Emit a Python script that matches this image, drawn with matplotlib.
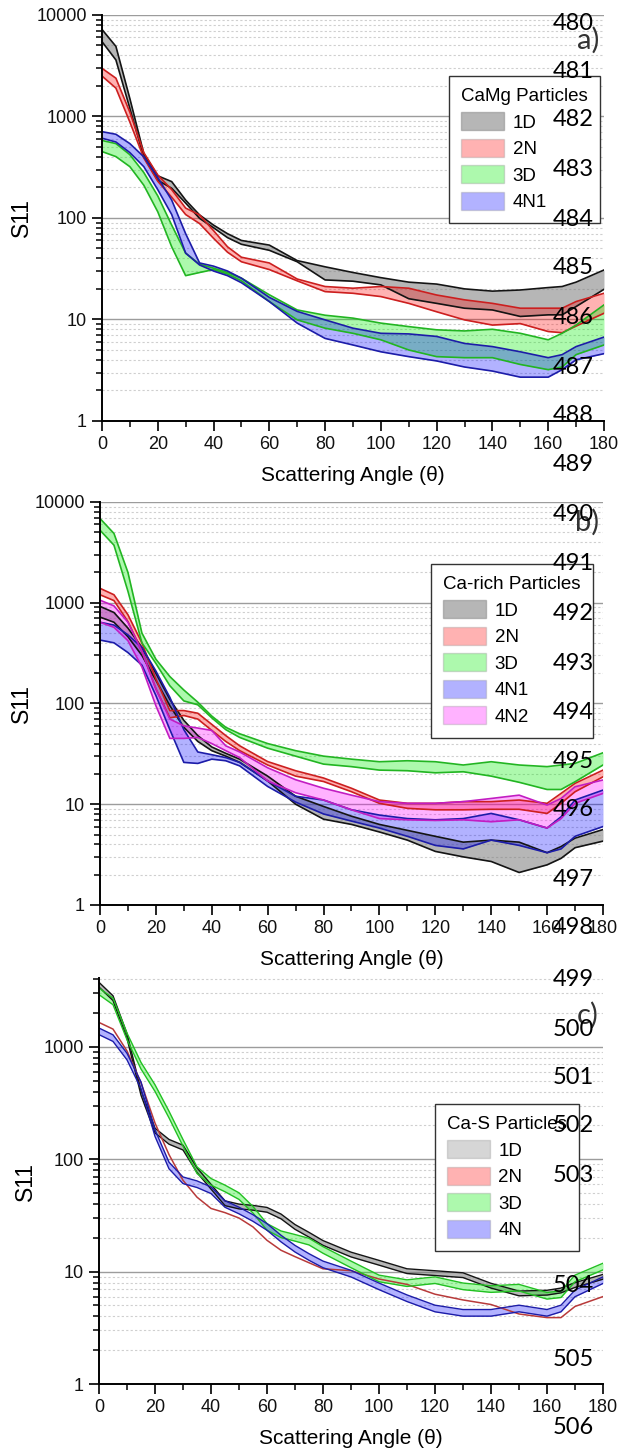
import matplotlib
matplotlib.use('Agg')
import matplotlib.pyplot as plt
import numpy as np
from matplotlib.patches import Patch
from matplotlib.ticker import FixedLocator, FixedFormatter, LogLocator, MultipleLocator, NullFormatter

plt.rcParams['font.family'] = ['Liberation Sans', 'DejaVu Sans']

# scattering angles (degrees)
angle = [0, 5, 10, 15, 20, 25, 30, 35, 40, 45, 50, 60, 70, 80, 90, 100, 110, 120, 130, 140, 150, 160, 165, 170, 180]
angle_cas = [0, 5, 10, 15, 20, 25, 30, 35, 40, 45, 50, 55, 60, 65, 70, 75, 80, 90, 100, 110, 120, 130, 140, 150, 160, 165, 170, 180]

# a) CaMg particles, upper / lower bounds of S11
camg_1d_hi = [7200, 4900, 1500, 430, 260, 228, 150, 107, 85, 70, 60, 54, 38, 33, 29, 25.8, 23.3, 22.3, 20, 19, 19.5, 20.6, 21.1, 23.3, 30.7]
camg_1d_lo = [5460, 3600, 1200, 400, 235, 196, 140, 99, 80, 64, 55, 48, 37, 24.5, 23.8, 21.9, 16, 14.4, 12.9, 12.4, 10.7, 11.1, 11.1, 13.4, 19.8]
camg_2n_hi = [2980, 2380, 1100, 440, 265, 190, 125, 107, 75, 52, 41, 36, 25, 21.1, 20.3, 21.1, 20.3, 17.4, 15.6, 14.4, 12.9, 12.9, 12.9, 15, 18.1]
camg_2n_lo = [2500, 1900, 880, 390, 230, 160, 108, 88, 63, 46, 37, 31, 24, 18.8, 18.1, 16.8, 14.4, 11.9, 9.9, 8.8, 9.1, 7.6, 7.4, 8.6, 11.5]
camg_3d_hi = [580, 540, 420, 280, 165, 85, 45, 35, 32, 29, 25.5, 17.5, 12.4, 11, 10.3, 9.2, 8.5, 7.9, 7.7, 8.0, 7.3, 6.3, 7.3, 8.8, 13.9]
camg_3d_lo = [451, 402, 320, 210, 115, 52, 27, 29, 31, 28, 24, 15, 9.9, 8.2, 7.3, 6.3, 5.0, 4.3, 4.2, 4.2, 3.6, 3.2, 3.4, 4.5, 5.6]
camg_4n1_hi = [708, 667, 540, 400, 250, 150, 70, 36, 33.5, 30, 25.5, 16.5, 12, 9.9, 8.2, 7.3, 7.2, 6.8, 5.8, 5.4, 4.8, 4.2, 4.5, 5.4, 6.7]
camg_4n1_lo = [610, 560, 440, 320, 190, 108, 45, 34.4, 30, 27, 23, 15, 9.2, 6.5, 5.6, 4.8, 4.3, 3.9, 3.4, 3.1, 2.7, 2.7, 3.2, 4.0, 4.6]

# b) Ca-rich particles
carich_1d_hi = [920, 800, 560, 360, 200, 110, 68, 48, 37, 32, 28, 19, 12, 9.5, 7.6, 6.3, 5.5, 4.8, 4.2, 4.4, 4.2, 3.3, 3.8, 4.6, 5.6]
carich_1d_lo = [720, 640, 460, 300, 170, 95, 58, 42, 34, 30, 26, 17, 10, 7.1, 6.3, 5.3, 4.4, 3.4, 3.0, 2.7, 2.1, 2.5, 2.9, 3.7, 4.3]
carich_2n_hi = [1390, 1200, 760, 400, 175, 85, 85, 80, 62, 48, 38, 26.5, 21.5, 18.2, 14.4, 11, 10.2, 10.2, 10.6, 10.6, 11, 10.2, 12.8, 16.1, 21.8]
carich_2n_lo = [1200, 1050, 650, 330, 140, 72, 76, 70, 54, 42, 34, 24.5, 19, 16.8, 13.3, 10.2, 9.1, 8.8, 8.8, 8.9, 8.9, 8.1, 10.2, 13.3, 18.7]
carich_3d_hi = [6860, 4870, 2000, 500, 275, 185, 136, 103, 75, 58, 50, 40, 34, 30, 28, 26.4, 27, 26.4, 24.5, 26.4, 24.5, 23.6, 24.5, 25.4, 32.4]
carich_3d_lo = [5250, 3725, 1300, 400, 250, 150, 106, 97, 72, 55, 46, 36, 30, 25, 23.6, 21.8, 21.5, 20.5, 21, 19, 16.5, 14, 14, 16.7, 24.5]
carich_4n1_hi = [640, 600, 480, 360, 210, 115, 55, 33, 31, 29, 26, 17, 12, 11, 8.8, 7.8, 7.2, 7.0, 7.2, 8.1, 7.0, 5.8, 7.5, 11, 13.8]
carich_4n1_lo = [426, 400, 320, 240, 120, 55, 26, 25.4, 28, 27, 24, 15, 10.5, 8.0, 6.8, 5.8, 4.8, 3.9, 3.6, 4.4, 3.9, 3.3, 3.6, 4.8, 6.0]
carich_4n2_hi = [1060, 930, 640, 330, 140, 70, 60, 57, 54, 38, 33, 23, 17.5, 14.4, 12.3, 10.6, 10.2, 10.2, 10.6, 11.4, 12.3, 9.8, 11.4, 14.9, 17.4]
carich_4n2_lo = [640, 570, 420, 230, 95, 45, 45, 46, 40, 34, 29, 17, 13, 11, 8.8, 7.2, 7.0, 6.9, 7.0, 6.7, 7.0, 5.8, 7.2, 10.2, 12.8]

# c) Ca-S particles (narrow bands)
cas_1d = [3575, 2715, 1250, 390, 180, 143, 127, 80, 57, 40.6, 38, 37, 35.5, 31, 25, 21.3, 18, 14.2, 12, 10.1, 9.7, 9.3, 7.5, 6.4, 6.5, 6.8, 7.6, 9.0]
cas_2n = [1650, 1440, 920, 480, 210, 110, 65, 46, 36.5, 33.5, 30, 25, 19, 15.5, 13.6, 12, 10.6, 10.2, 8.6, 7.7, 6.3, 5.6, 5.1, 4.2, 3.9, 3.9, 4.9, 6.0]
cas_3d = [3120, 2540, 1240, 680, 430, 250, 140, 80, 63, 55, 47, 35.5, 25, 21.5, 20, 18.5, 15.6, 11.6, 8.7, 7.9, 8.4, 7.4, 7.0, 7.2, 6.1, 6.3, 8.7, 11.1]
cas_4n = [1375, 1197, 820, 455, 171, 88, 65, 60, 53, 40, 35, 30, 25, 19.7, 16, 13.5, 11.6, 9.6, 7.4, 5.8, 4.7, 4.3, 4.3, 4.7, 4.3, 4.7, 6.4, 8.4]

# colours: (fill, fill alpha, edge line)
style = {
    '1D': ('#7a7a7a', 0.55, '#141414'),
    '2N': ('#ff0000', 0.30, '#cc1f1f'),
    '3D': ('#00ee00', 0.32, '#22b522'),
    '4N1': ('#0000ff', 0.30, '#1c1ca8'),
    '4N2': ('#ff00ff', 0.30, '#c21dc2'),
    '4N': ('#0000ff', 0.30, '#1c1ca8'),
}
cas_width = {'1D': 1.05, '2N': 1.0, '3D': 1.07, '4N': 1.07}
cas_edge = {'1D': '#141414', '2N': '#b83a3a', '3D': '#22c022', '4N': '#1c1ca8'}


def draw_band(ax, x, lo, hi, key, edge=None, lw=1.2):
    fc, alpha, ec = style[key]
    if edge is not None:
        ec = edge
    ax.fill_between(x, lo, hi, color=fc, alpha=alpha, lw=0)
    ax.plot(x, hi, color=ec, lw=lw)
    ax.plot(x, lo, color=ec, lw=lw)


def setup_axes(ax, ytop, ylab_x):
    ax.set_yscale('log')
    ax.set_xlim(0, 180)
    ax.set_ylim(1, ytop)
    for side in ('top', 'right'):
        ax.spines[side].set_visible(False)
    for side in ('left', 'bottom'):
        ax.spines[side].set_linewidth(1.4)
    decades = [d for d in [1, 10, 100, 1000, 10000] if d <= ytop]
    ax.yaxis.set_major_locator(FixedLocator(decades))
    ax.yaxis.set_major_formatter(FixedFormatter([str(d) for d in decades]))
    ax.yaxis.set_minor_locator(LogLocator(base=10, subs=np.arange(2, 10)))
    ax.yaxis.set_minor_formatter(NullFormatter())
    ax.xaxis.set_major_locator(MultipleLocator(20))
    ax.xaxis.set_minor_locator(MultipleLocator(10))
    ax.tick_params(which='major', direction='out', length=7, width=1.3,
                   labelsize=13, colors='#111111', pad=4)
    ax.tick_params(which='minor', direction='out', length=4, width=1.1)
    ax.yaxis.grid(True, which='major', color='#9c9c9c', lw=1.0)
    ax.yaxis.grid(True, which='minor', color='#cfcfcf', lw=0.8, ls=(0, (2, 2)))
    ax.set_axisbelow(True)
    ax.set_xlabel('Scattering Angle (θ)', fontsize=15, labelpad=9)
    ax.set_ylabel('S11', fontsize=16.5)
    ax.yaxis.set_label_coords(ylab_x, 0.5)


def add_legend(ax, title, keys, anchor, light=False):
    handles = []
    for k in keys:
        fc, alpha, ec = style[k]
        a = alpha * (0.55 if light and k == '1D' else 1.0)
        handles.append(Patch(facecolor=fc, alpha=a, edgecolor='#8a8a8a', lw=1.0, label=k))
    leg = ax.legend(handles=handles, title=title, loc='upper right', bbox_to_anchor=anchor,
                    borderaxespad=0, fontsize=13.5, title_fontsize=13.5, frameon=True,
                    fancybox=False, edgecolor='#333333', framealpha=1, handlelength=2.3,
                    handleheight=1.1, labelspacing=0.38, borderpad=0.65, handletextpad=0.45,
                    alignment='left')
    leg.get_frame().set_linewidth(1.0)
    leg.set_zorder(10)


fig = plt.figure(figsize=(6.18, 14.5), dpi=100)

# a) CaMg particles
ax_a = fig.add_axes([0.1650, 0.7097, 0.8123, 0.2800])
setup_axes(ax_a, 10000, -0.137)
draw_band(ax_a, angle, camg_1d_lo, camg_1d_hi, '1D')
draw_band(ax_a, angle, camg_2n_lo, camg_2n_hi, '2N')
draw_band(ax_a, angle, camg_3d_lo, camg_3d_hi, '3D')
draw_band(ax_a, angle, camg_4n1_lo, camg_4n1_hi, '4N1')
add_legend(ax_a, 'CaMg Particles', ['1D', '2N', '3D', '4N1'], (0.992, 0.850))

# b) Ca-rich particles
ax_b = fig.add_axes([0.1618, 0.3759, 0.8139, 0.2779])
setup_axes(ax_b, 10000, -0.133)
draw_band(ax_b, angle, carich_1d_lo, carich_1d_hi, '1D')
draw_band(ax_b, angle, carich_2n_lo, carich_2n_hi, '2N')
draw_band(ax_b, angle, carich_3d_lo, carich_3d_hi, '3D')
draw_band(ax_b, angle, carich_4n1_lo, carich_4n1_hi, '4N1')
draw_band(ax_b, angle, carich_4n2_lo, carich_4n2_hi, '4N2')
add_legend(ax_b, 'Ca-rich Particles', ['1D', '2N', '3D', '4N1', '4N2'], (0.980, 0.846))

# c) Ca-S particles
ax_c = fig.add_axes([0.1602, 0.0455, 0.8155, 0.2800])
setup_axes(ax_c, 4100, -0.123)
for key, vals in [('1D', cas_1d), ('2N', cas_2n), ('3D', cas_3d), ('4N', cas_4n)]:
    v = np.asarray(vals, dtype=float)
    w = cas_width[key]
    if w > 1.0:
        draw_band(ax_c, angle_cas, v / w, v * w, key, edge=cas_edge[key], lw=1.0)
    else:
        ax_c.plot(angle_cas, v, color=cas_edge[key], lw=1.1)
add_legend(ax_c, 'Ca-S Particles', ['1D', '2N', '3D', '4N'], (0.952, 0.690), light=True)

# panel tags
for tag, ypix in [('a)', 40), ('b)', 522), ('c)', 1015)]:
    fig.text(599 / 618, 1 - ypix / 1450, tag, ha='right', va='center',
             fontsize=21, color='#333333', family=['Lato', 'DejaVu Sans'])

# manuscript line numbers down the right margin
line_no = list(range(480, 507))
line_y = [24, 72, 120, 169, 219, 268, 318, 367, 415, 464,
          515, 564, 613, 663, 713, 761, 810, 879, 927,
          979, 1029, 1078, 1126, 1176, 1286, 1359, 1428]
for n, ypix in zip(line_no, line_y):
    fig.text(594 / 618, 1 - ypix / 1450, str(n), ha='right', va='center',
             fontsize=17, color='black', family=['Lato', 'DejaVu Sans'])

fig.savefig('out.png', dpi=100)
